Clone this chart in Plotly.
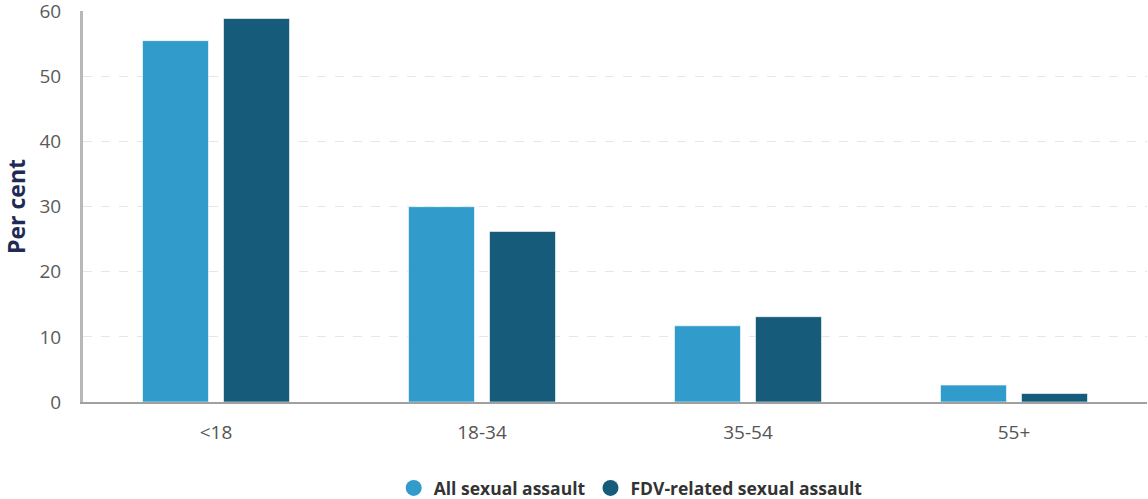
import plotly.graph_objects as go

# Grupos etários e percentuais
grupos = ["<18", "18-34", "35-54", "55+"]
todos = [55.5, 30.0, 11.7, 2.6]
fdv = [58.9, 26.2, 13.1, 1.3]
ticks_y = [0, 10, 20, 30, 40, 50, 60]

COR_TODOS = "#319ccb"
COR_FDV = "#175b7a"

fig = go.Figure()
for nome, vals, cor in [("All sexual assault", todos, COR_TODOS),
                        ("FDV-related sexual assault", fdv, COR_FDV)]:
    fig.add_trace(go.Bar(
        x=grupos, y=vals, name=nome, marker_color=cor,
        marker_line=dict(color="rgba(255,255,255,0.6)", width=1),
        showlegend=False,
    ))
    # marcador redondo só para a legenda
    fig.add_trace(go.Scatter(
        x=[None], y=[None], mode="markers", name=nome,
        marker=dict(symbol="circle", size=16, color=cor),
    ))

fig.update_layout(
    width=1148, height=499,
    margin=dict(l=83, r=1, t=11, b=97),
    barmode="group", bargap=0.391, bargroupgap=0.185,
    plot_bgcolor="white", paper_bgcolor="white",
    font=dict(family="Open Sans", color="#555555", size=19),
    legend=dict(
        orientation="h", x=0.292, xanchor="left",
        yref="container", y=0.022, yanchor="middle",
        font=dict(size=17.5, color="#333333", family="Open Sans", weight="bold"),
        itemwidth=30,
    ),
)
fig.update_xaxes(
    automargin=False,
    showline=True, linecolor="#a0a0a0", linewidth=2,
    ticks="outside", ticklen=12, tickcolor="rgba(0,0,0,0)",
    tickfont=dict(size=19, color="#555555"),
)
fig.update_yaxes(
    automargin=False,
    range=[0, 60.05], tickvals=ticks_y, ticklabeloverflow="allow",
    showline=True, linecolor="#b8b8b8", linewidth=3,
    showgrid=True, gridcolor="#e6e6e6", griddash="dash", gridwidth=1,
    zeroline=False,
    ticks="outside", ticklen=15, tickcolor="rgba(0,0,0,0)",
    tickfont=dict(size=19, color="#5a5a5a"),
    title=dict(text="Per cent",
               font=dict(size=23, color="#1f2a55", family="Open Sans", weight="bold")),
)

# sem a margem padrão do <body>
fig.write_html("out.html", config={"displayModeBar": False},
               post_script="document.body.style.margin='0px';")
